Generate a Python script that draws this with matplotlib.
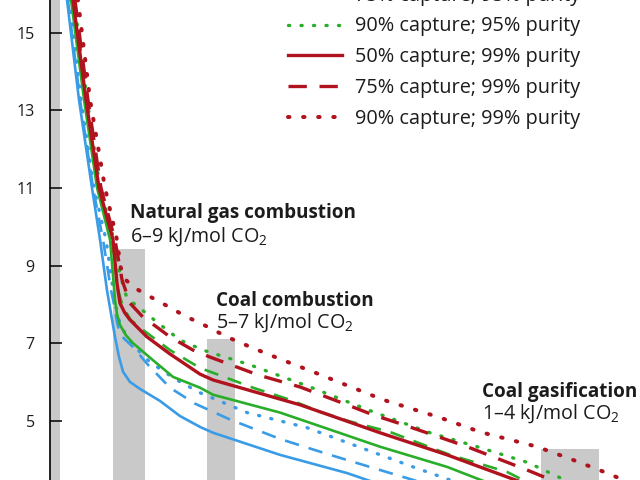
import matplotlib
matplotlib.use("Agg")
import matplotlib.pyplot as plt

plt.rcParams['font.family'] = ['Open Sans', 'DejaVu Sans']
plt.rcParams['mathtext.fontset'] = 'custom'
plt.rcParams['mathtext.rm'] = 'Open Sans'
plt.rcParams['mathtext.bf'] = 'Open Sans:bold'

# CO2 concentration (%) vs minimum work (kJ/mol CO2)
blue_solid_x = [0.92, 1.31, 2.23, 3.23, 3.85, 4.38, 5.0, 5.31, 5.62, 6.15, 6.92, 8.46, 10.0, 11.54, 12.54, 17.69, 22.85, 26.15]
blue_solid_y = [16.87, 15.84, 13.27, 11.0, 9.66, 8.37, 7.16, 6.64, 6.26, 6.0, 5.82, 5.51, 5.12, 4.84, 4.69, 4.12, 3.65, 3.27]
blue_dash_x = [1.0, 1.38, 2.31, 3.31, 4.08, 4.69, 4.92, 5.15, 5.38, 6.38, 7.54, 9.23, 11.15, 13.85, 17.69, 21.54, 25.38, 28.46]
blue_dash_y = [16.87, 15.84, 13.27, 11.0, 9.66, 8.37, 8.0, 7.55, 7.22, 6.9, 6.44, 5.85, 5.44, 5.03, 4.53, 4.12, 3.73, 3.42]
blue_dot_x = [1.08, 1.46, 2.38, 3.38, 4.31, 4.85, 5.23, 6.0, 7.69, 9.6, 11.54, 15.15, 19.77, 23.31, 27.92, 31.54]
blue_dot_y = [16.87, 15.84, 13.27, 11.0, 9.66, 8.37, 7.65, 7.08, 6.51, 6.08, 5.72, 5.21, 4.82, 4.38, 3.81, 3.38]

green_solid_x = [1.23, 1.62, 2.62, 3.62, 4.62, 5.0, 5.15, 5.38, 5.85, 6.38, 7.92, 9.46, 11.54, 12.54, 17.69, 21.54, 25.38, 30.54, 33.85]
green_solid_y = [16.87, 15.84, 13.27, 11.0, 9.66, 8.11, 7.75, 7.47, 7.2, 7.0, 6.56, 6.13, 5.85, 5.67, 5.21, 4.77, 4.33, 3.81, 3.38]
green_dash_x = [1.31, 1.69, 2.69, 3.69, 4.77, 5.23, 5.62, 6.2, 7.15, 9.23, 11.54, 15.62, 18.46, 20.77, 23.08, 26.15, 30.77, 35.15, 36.92]
green_dash_y = [16.87, 15.84, 13.27, 11.0, 9.66, 8.37, 7.93, 7.6, 7.34, 6.82, 6.36, 5.85, 5.54, 5.23, 4.98, 4.71, 4.12, 3.68, 3.38]
green_dot_x = [1.46, 1.85, 2.85, 3.85, 4.92, 5.38, 5.92, 6.92, 8.23, 10.0, 11.77, 15.38, 20.0, 24.85, 29.23, 32.85, 36.77, 39.62, 40.38]
green_dot_y = [16.87, 15.84, 13.27, 11.0, 9.66, 8.76, 8.16, 7.9, 7.54, 7.08, 6.82, 6.44, 5.87, 5.23, 4.69, 4.33, 3.92, 3.47, 3.34]

red_solid_x = [1.38, 1.77, 2.77, 3.77, 4.85, 5.15, 5.38, 5.75, 6.15, 7.46, 9.23, 11.54, 12.54, 19.23, 25.38, 30.54, 36.54]
red_solid_y = [16.87, 15.84, 13.27, 11.0, 9.66, 8.55, 8.03, 7.78, 7.6, 7.16, 6.72, 6.2, 6.05, 5.41, 4.69, 4.12, 3.38]
red_dash_x = [1.54, 1.92, 2.92, 3.92, 5.0, 5.54, 6.15, 7.15, 8.23, 9.23, 11.0, 12.31, 16.0, 19.23, 22.85, 24.85, 27.15, 32.08, 36.69, 39.23]
red_dash_y = [16.87, 15.84, 13.27, 11.0, 9.66, 8.63, 8.03, 7.67, 7.41, 7.16, 6.82, 6.64, 6.18, 5.87, 5.41, 5.15, 4.9, 4.33, 3.73, 3.38]
red_dot_x = [1.77, 2.15, 3.08, 4.23, 5.15, 5.4, 5.62, 6.38, 7.46, 8.62, 10.54, 11.54, 13.62, 15.62, 17.92, 20.23, 25.62, 30.0, 33.08, 37.46, 40.23, 42.85, 45.38]
red_dot_y = [16.87, 15.84, 13.27, 11.0, 9.66, 9.01, 8.7, 8.45, 8.24, 8.03, 7.67, 7.52, 7.16, 6.87, 6.56, 6.26, 5.54, 5.08, 4.71, 4.33, 3.99, 3.65, 3.29]

# shaded ranges: left edge, width, top
bar_left = [0.0, 4.85, 12.08, 37.8]
bar_width = [0.75, 2.46, 2.15, 4.4]
bar_top = [20.0, 9.43, 7.10, 4.265]

labels_top = ["Natural gas combustion", "Coal combustion", "Coal gasification"]
labels_sub = ["6–9 kJ/mol CO$_2$", "5–7 kJ/mol CO$_2$", "1–4 kJ/mol CO$_2$"]
label_x = [6.15, 12.77, 33.23]
label_y1 = [10.22, 7.96, 5.61]
label_y2 = [9.61, 7.39, 5.04]

blue = '#3a9ce6'
green = '#2aae2a'
red = '#b0121e'
txt = '#1c1c1c'
dash = (0, (5.5, 3.8))
dot = (0, (0.35, 3.4))

fig = plt.figure(figsize=(6.4, 4.8), dpi=100)
ax = fig.add_axes([50/640, 0, 590/640, 1])

ax.bar(bar_left, bar_top, bar_width, align='edge', color='#c9c9c9', zorder=1, linewidth=0)

series = [
    (blue_solid_x, blue_solid_y, blue, '-', 1.9, "50% capture; 90% purity"),
    (blue_dash_x, blue_dash_y, blue, dash, 1.9, "75% capture; 90% purity"),
    (blue_dot_x, blue_dot_y, blue, dot, 2.4, "90% capture; 90% purity"),
    (green_solid_x, green_solid_y, green, '-', 1.9, "50% capture; 95% purity"),
    (green_dash_x, green_dash_y, green, dash, 1.9, "75% capture; 95% purity"),
    (green_dot_x, green_dot_y, green, dot, 2.4, "90% capture; 95% purity"),
    (red_solid_x, red_solid_y, red, '-', 2.4, "50% capture; 99% purity"),
    (red_dash_x, red_dash_y, red, dash, 2.4, "75% capture; 99% purity"),
    (red_dot_x, red_dot_y, red, dot, 2.9, "90% capture; 99% purity"),
]
handles = []
for xs, ys, c, ls, lw, lab in series:
    ln, = ax.plot(xs, ys, color=c, linestyle=ls, linewidth=lw, label=lab,
                  dash_capstyle='round' if ls == dot else 'butt', zorder=3)
    handles.append(ln)

for i in range(3):
    ax.text(label_x[i], label_y1[i], labels_top[i], fontsize=13.6, fontweight='bold',
            color=txt, va='baseline', ha='left', zorder=4)
    ax.text(label_x[i], label_y2[i], labels_sub[i], fontsize=14.2,
            color=txt, va='baseline', ha='left', zorder=4)

ax.legend(handles=handles, loc='lower left', bbox_to_anchor=(0.45, 0.732),
          bbox_transform=fig.transFigure, frameon=False, fontsize=14.3,
          handlelength=2.72, handletextpad=0.65, labelspacing=0.54,
          borderpad=0, borderaxespad=0, labelcolor=txt)

ax.set_xlim(0, 45.38)
ax.set_ylim(3.472, 15.843)
ax.set_yticks([5, 7, 9, 11, 13, 15])
ax.tick_params(axis='y', direction='in', length=8.6, width=1.1, pad=11,
               labelsize=11.5, labelcolor=txt)
ax.set_xticks([])
for s in ['top', 'right', 'bottom']:
    ax.spines[s].set_visible(False)
ax.spines['left'].set_linewidth(1.2)
ax.spines['left'].set_zorder(5)

fig.savefig('out.png', dpi=100)
